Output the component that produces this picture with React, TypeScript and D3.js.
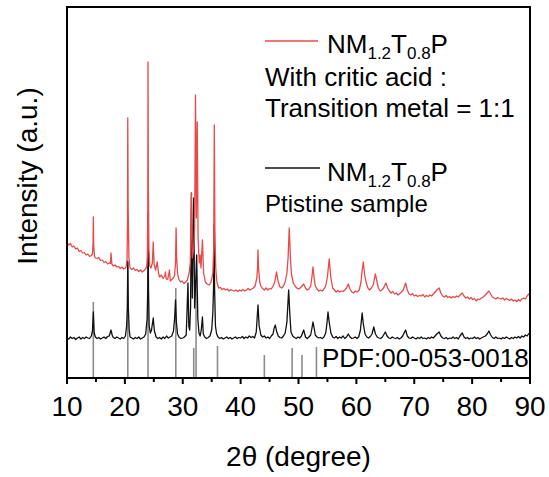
import React from "react";
import * as d3 from "d3";

// 2θ (deg), intensity (counts) — sample with citric acid (red)
const redPattern: [number, number][] = [
  [10.0,1350],[10.3,1330],[10.6,1345],[10.9,1310],[11.2,1320],[11.5,1290],[11.8,1300],[12.1,1265],[12.4,1275],[12.7,1250],
  [13.0,1255],[13.3,1230],[13.6,1240],[13.9,1215],[14.2,1225],[14.4,1240],[14.5,1350],[14.55,1610],[14.62,1320],[14.75,1220],[14.9,1200],[15.2,1195],
  [15.5,1205],[15.8,1175],[16.1,1180],[16.4,1155],[16.7,1165],[17.0,1140],[17.3,1150],[17.5,1145],[17.6,1250],[17.75,1140],
  [18.0,1120],[18.3,1130],[18.6,1110],[18.9,1115],[19.2,1095],[19.5,1110],[19.8,1090],[20.1,1100],[20.25,1120],[20.38,1200],[20.46,1600],[20.5,2600],
  [20.57,1700],[20.7,1200],[20.9,1100],[21.2,1085],[21.5,1100],[21.8,1075],[22.1,1085],[22.4,1065],[22.7,1080],[23.0,1060],[23.3,1075],
  [23.6,1090],[23.78,1120],[23.88,1220],[23.96,1700],[24.0,3160],[24.06,1900],[24.15,1300],[24.3,1120],[24.5,1100],[24.75,1150],[24.9,1360],[25.05,1140],[25.3,1080],
  [25.6,1160],[25.8,1050],[26.0,1010],[26.3,1030],[26.6,995],[26.9,1020],[27.0,1060],[27.15,990],[27.4,985],[27.7,1080],
  [27.85,970],[28.1,985],[28.4,1000],[28.6,1030],[28.75,1150],[28.85,1500],[28.95,1200],[29.1,1050],[29.3,990],[29.6,960],[29.9,970],[30.2,945],
  [30.5,960],[30.8,980],[31.1,1050],[31.3,1150],[31.5,1850],[31.65,1200],[31.9,1300],[32.05,1500],[32.2,2830],[32.35,1600],
  [32.5,2560],[32.65,1400],[32.85,1150],[33.0,1230],[33.15,1100],[33.4,1380],[33.6,1050],[33.9,960],[34.2,940],[34.6,930],
  [34.9,960],[35.2,1050],[35.35,1300],[35.45,2530],[35.55,1500],[35.7,1100],[35.9,960],[36.2,900],[36.5,905],[36.8,885],[37.1,895],[37.4,880],
  [37.7,890],[38.0,870],[38.3,885],[38.6,875],[38.9,870],[39.2,880],[39.5,865],[39.8,880],[40.1,870],[40.4,885],
  [40.7,870],[41.0,880],[41.3,895],[41.6,880],[41.9,890],[42.2,900],[42.5,920],[42.8,1000],[42.92,1100],[43.0,1280],[43.1,1100],[43.3,960],
  [43.5,920],[43.8,895],[44.1,880],[44.4,900],[44.7,880],[45.0,895],[45.3,890],[45.6,920],[45.9,960],[46.2,1060],
  [46.5,960],[46.8,910],[47.1,900],[47.4,920],[47.7,960],[48.0,1050],[48.2,1200],[48.4,1500],[48.6,1200],[48.8,1030],
  [49.1,950],[49.4,920],[49.7,900],[50.0,890],[50.3,900],[50.6,920],[50.9,940],[51.2,900],[51.5,880],[51.8,890],
  [52.1,920],[52.3,1000],[52.5,1110],[52.7,1000],[52.9,920],[53.2,890],[53.5,870],[53.8,880],[54.1,870],[54.4,890],
  [54.7,920],[55.0,1010],[55.3,1190],[55.6,1000],[55.9,900],[56.2,880],[56.5,860],[56.8,875],[57.1,860],[57.4,870],
  [57.7,865],[58.0,880],[58.3,900],[58.6,940],[58.9,890],[59.2,860],[59.5,850],[59.8,870],[60.1,860],[60.5,880],
  [60.8,960],[61.0,1080],[61.2,1160],[61.4,1040],[61.7,950],[62.0,900],[62.3,880],[62.6,900],[62.9,930],[63.1,990],
  [63.3,1040],[63.5,980],[63.8,900],[64.1,870],[64.4,880],[64.7,900],[65.1,950],[65.4,900],[65.7,870],[66.0,850],
  [66.3,865],[66.6,840],[66.9,850],[67.2,830],[67.5,845],[67.8,860],[68.1,880],[68.5,950],[68.8,880],[69.1,840],
  [69.4,830],[69.7,845],[70.0,820],[70.3,830],[70.6,815],[70.9,825],[71.2,820],[71.5,835],[71.8,810],[72.1,825],
  [72.4,815],[72.7,830],[73.0,820],[73.3,840],[73.6,860],[73.9,880],[74.3,900],[74.6,850],[74.9,820],[75.2,810],
  [75.5,825],[75.8,805],[76.1,815],[76.4,800],[76.7,815],[77.0,805],[77.3,820],[77.6,810],[77.9,830],[78.3,850],
  [78.6,820],[78.9,800],[79.2,810],[79.5,790],[79.8,805],[80.1,785],[80.4,795],[80.7,770],[81.0,790],[81.3,785],
  [81.6,800],[81.9,810],[82.3,830],[82.6,850],[82.9,870],[83.2,840],[83.5,810],[83.8,800],[84.1,790],[84.4,805],
  [84.7,795],[85.0,790],[85.3,800],[85.6,780],[85.9,795],[86.2,785],[86.5,775],[86.8,790],[87.1,770],[87.4,780],
  [87.7,765],[88.0,785],[88.3,770],[88.6,790],[88.9,800],[89.2,790],[89.5,820],[89.8,840],[90.0,850],
];

// pristine sample (black)
const blackPattern: [number, number][] = [
  [10.0,400],[10.3,390],[10.6,410],[10.9,395],[11.2,405],[11.5,385],[11.8,400],[12.1,410],[12.4,390],[12.7,405],
  [13.0,395],[13.3,410],[13.6,400],[13.9,395],[14.2,420],[14.4,470],[14.55,660],[14.7,450],[14.9,410],[15.2,395],
  [15.5,405],[15.8,390],[16.1,400],[16.4,410],[16.7,395],[17.0,415],[17.3,420],[17.6,480],[17.8,430],[18.0,405],
  [18.3,395],[18.6,410],[18.9,400],[19.2,390],[19.5,405],[19.8,395],[20.1,420],[20.3,520],[20.42,700],[20.5,1170],[20.6,700],[20.75,480],
  [20.9,410],[21.2,400],[21.5,390],[21.8,405],[22.1,395],[22.4,410],[22.7,390],[23.0,400],[23.3,410],[23.6,440],
  [23.85,600],[23.95,900],[24.0,1650],[24.08,900],[24.2,520],[24.4,450],[24.6,480],[24.9,600],[25.1,470],[25.4,410],[25.7,395],[26.0,405],
  [26.3,390],[26.6,410],[26.9,395],[27.2,420],[27.5,400],[27.8,410],[28.1,420],[28.4,470],[28.6,600],[28.75,780],
  [28.9,560],[29.1,440],[29.4,405],[29.7,395],[30.0,400],[30.3,410],[30.6,430],[30.9,950],[31.05,520],[31.2,480],
  [31.35,700],[31.5,1850],[31.65,800],[31.9,1800],[32.05,700],[32.2,900],[32.4,1230],[32.6,600],[32.8,450],[33.0,420],
  [33.2,480],[33.4,610],[33.55,440],[33.8,410],[34.1,395],[34.4,405],[34.7,420],[35.0,480],[35.2,650],[35.32,900],[35.4,1530],
  [35.5,900],[35.65,520],[35.85,440],[36.1,410],[36.4,395],[36.7,405],[37.0,390],[37.3,400],[37.6,410],[37.9,395],[38.2,405],
  [38.5,390],[38.8,400],[39.1,410],[39.4,395],[39.7,405],[40.0,400],[40.3,415],[40.6,395],[40.9,410],[41.2,400],
  [41.5,420],[41.8,405],[42.1,415],[42.4,400],[42.7,460],[43.0,730],[43.2,520],[43.5,430],[43.8,410],[44.1,420],
  [44.4,400],[44.7,410],[45.0,395],[45.3,420],[45.6,440],[45.8,500],[46.0,530],[46.2,470],[46.5,420],[46.8,405],
  [47.1,400],[47.4,420],[47.7,450],[48.0,560],[48.3,880],[48.5,640],[48.7,460],[49.0,420],[49.3,405],[49.6,395],
  [49.9,410],[50.2,400],[50.5,420],[50.9,480],[51.2,410],[51.5,395],[51.8,410],[52.1,430],[52.3,490],[52.5,560],
  [52.7,500],[52.9,430],[53.2,410],[53.5,400],[53.8,405],[54.1,395],[54.4,410],[54.7,450],[54.9,540],[55.1,660],
  [55.3,560],[55.6,450],[55.9,410],[56.2,400],[56.5,415],[56.8,395],[57.1,410],[57.4,400],[57.7,420],[58.0,395],
  [58.3,410],[58.6,440],[58.9,410],[59.2,395],[59.5,400],[59.8,410],[60.1,395],[60.4,410],[60.7,480],[61.0,650],
  [61.2,540],[61.5,440],[61.8,410],[62.1,400],[62.4,415],[62.7,440],[63.0,510],[63.3,440],[63.6,410],[63.9,400],
  [64.2,395],[64.5,410],[65.0,460],[65.3,420],[65.6,400],[65.9,395],[66.2,410],[66.5,400],[66.8,395],[67.1,405],
  [67.4,390],[67.7,400],[68.0,420],[68.5,480],[68.8,420],[69.1,400],[69.4,395],[69.7,410],[70.0,400],[70.3,390],
  [70.6,405],[70.9,395],[71.2,410],[71.5,395],[71.8,400],[72.1,390],[72.4,405],[72.7,395],[73.0,410],[73.3,400],
  [73.6,420],[73.9,440],[74.3,460],[74.6,420],[74.9,400],[75.2,395],[75.5,405],[75.8,390],[76.1,400],[76.4,395],
  [76.7,410],[77.0,395],[77.3,405],[77.6,390],[77.9,420],[78.3,450],[78.6,410],[78.9,395],[79.2,405],[79.5,390],
  [79.8,400],[80.1,395],[80.4,410],[80.7,395],[81.0,405],[81.3,390],[81.6,400],[81.9,410],[82.3,420],[82.6,440],
  [82.9,470],[83.2,430],[83.5,405],[83.8,395],[84.1,410],[84.4,395],[84.7,400],[85.0,390],[85.3,405],[85.6,395],
  [85.9,410],[86.2,400],[86.5,390],[86.8,405],[87.1,395],[87.4,410],[87.7,400],[88.0,415],[88.3,400],[88.6,420],
  [88.9,410],[89.2,430],[89.5,420],[89.8,445],[90.0,450],
];

// reference pattern PDF:00-053-0018 (2θ, relative height)
const refPositions = [14.55, 20.5, 24.0, 28.8, 31.9, 32.3, 36.0, 44.1, 48.9, 50.6, 53.1];
const refHeights = [760, 1160, 1030, 900, 300, 980, 320, 230, 300, 230, 310];

const xTicks = [10, 20, 30, 40, 50, 60, 70, 80, 90];
const xMinorTicks = [15, 25, 35, 45, 55, 65, 75, 85];

const FONT = "'Liberation Sans', Arial, Helvetica, sans-serif";

export default function App() {
  const W = 549, H = 477;
  const left = 67, right = 530, top = 7, bottom = 378;
  const x = d3.scaleLinear().domain([10, 90]).range([left, right]);
  const y = d3.scaleLinear().domain([0, 3710]).range([bottom, top]);
  const line = d3.line<[number, number]>().x(d => x(d[0])).y(d => y(d[1]));

  const sub = (t: string) => (
    <tspan fontSize={17} dy={6}>{t}</tspan>
  );
  const formula = (xx: number, yy: number) => (
    <text x={xx} y={yy} fontSize={26} fontFamily={FONT} fill="#000">
      NM{sub("1.2")}<tspan dy={-6}>T</tspan>{sub("0.8")}<tspan dy={-6}>P</tspan>
    </text>
  );

  return (
    <svg width={W} height={H} style={{ position: "absolute", left: 0, top: 0, background: "#fff" }}>
      <defs>
        <clipPath id="plotClip">
          <rect x={left} y={top} width={right - left} height={bottom - top} />
        </clipPath>
      </defs>
      <g clipPath="url(#plotClip)">
        {refPositions.map((p, i) => (
          <line key={i} x1={x(p)} x2={x(p)} y1={y(0)} y2={y(refHeights[i])} stroke="#8c8c8c" strokeWidth={1.6} />
        ))}
        <path d={line(blackPattern) || ""} fill="none" stroke="#111" strokeWidth={1.3} strokeLinejoin="round" />
        <path d={line(redPattern) || ""} fill="none" stroke="#e84a4a" strokeWidth={1.3} strokeLinejoin="round" />
      </g>
      <rect x={left} y={top} width={right - left} height={bottom - top} fill="none" stroke="#000" strokeWidth={2} />
      {xTicks.map(t => (
        <g key={t}>
          <line x1={x(t)} x2={x(t)} y1={bottom} y2={bottom + 6} stroke="#000" strokeWidth={2} />
          <text x={x(t)} y={416} fontSize={28} fontFamily={FONT} textAnchor="middle" fill="#000">{t}</text>
        </g>
      ))}
      {xMinorTicks.map(t => (
        <line key={t} x1={x(t)} x2={x(t)} y1={bottom} y2={bottom + 4} stroke="#000" strokeWidth={2} />
      ))}
      <text x={(left + right) / 2} y={466} fontSize={28} fontFamily={FONT} textAnchor="middle" fill="#000">2θ (degree)</text>
      <text transform="translate(37,176) rotate(-90)" fontSize={28} fontFamily={FONT} textAnchor="middle" fill="#000">Intensity (a.u.)</text>

      <line x1={265} x2={318} y1={41} y2={41} stroke="#e84a4a" strokeWidth={1.5} />
      {formula(327, 53)}
      <text x={265} y={86} fontSize={26} fontFamily={FONT} fill="#000">With critic acid :</text>
      <text x={265} y={117} fontSize={26} fontFamily={FONT} fill="#000">Transition metal = 1:1</text>
      <line x1={265} x2={320} y1={168} y2={168} stroke="#111" strokeWidth={1.5} />
      {formula(327, 181)}
      <text x={265} y={212} fontSize={24} fontFamily={FONT} fill="#000">Ptistine sample</text>
      <text x={322} y={367} fontSize={26} fontFamily={FONT} fill="#000">PDF:00-053-0018</text>
    </svg>
  );
}
